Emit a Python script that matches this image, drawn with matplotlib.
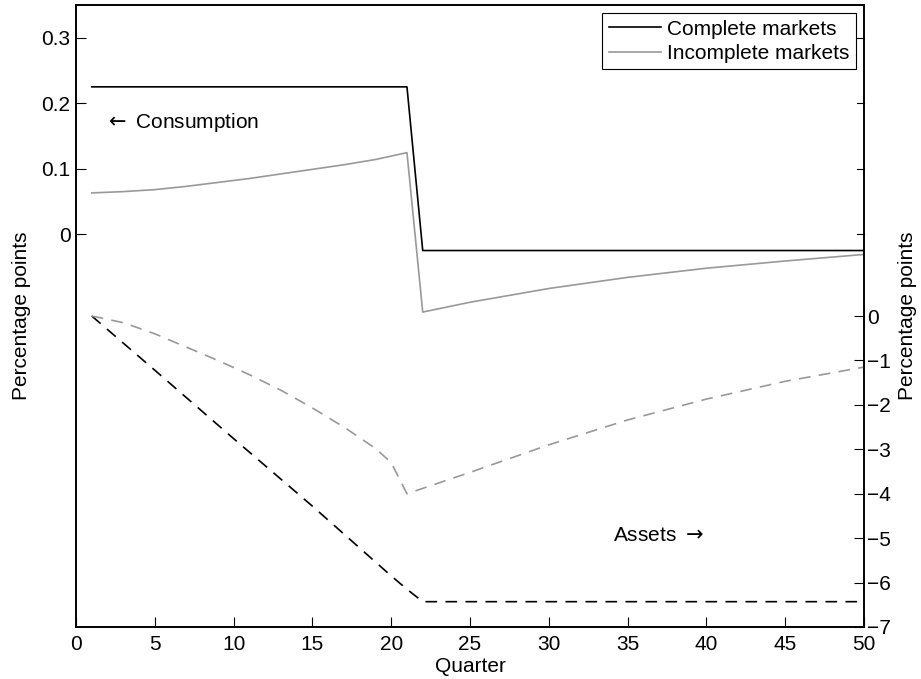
import numpy as np
import matplotlib.pyplot as plt

plt.rcParams['font.family'] = ['Liberation Sans', 'DejaVu Sans']
plt.rcParams['font.size'] = 15

# Consumo (eje izquierdo)
q_cm = [1, 21, 22, 50]
c_cm = [0.225, 0.225, -0.025, -0.025]

q_im = [1, 3, 5, 7, 9, 11, 13, 15, 17, 19, 21, 22, 25, 30, 35, 40, 45, 50]
c_im = [0.063, 0.065, 0.068, 0.073, 0.079, 0.085, 0.092, 0.099, 0.106, 0.114, 0.1245,
        -0.119, -0.104, -0.083, -0.066, -0.052, -0.041, -0.031]

# Activos (eje derecho)
q_acm = [1, 5, 10, 15, 20, 21, 22, 50]
a_cm = [0.0, -1.22, -2.76, -4.28, -5.85, -6.15, -6.43, -6.43]

q_aim = [1, 3, 5, 7, 9, 11, 13, 15, 17, 19, 20, 21, 22, 25, 30, 35, 40, 45, 50]
a_im = [0.0, -0.15, -0.40, -0.70, -1.0, -1.32, -1.67, -2.07, -2.5, -2.98, -3.3, -4.0,
        -3.88, -3.52, -2.9, -2.34, -1.87, -1.47, -1.15]

gris = '#999999'

fig = plt.figure(figsize=(9.21, 6.79), dpi=100)
ax = fig.add_axes([76 / 921, 52 / 679, 788 / 921, 622 / 679])
ax2 = ax.twinx()

l1, = ax.plot(q_cm, c_cm, color='black', lw=1.2, label='Complete markets')
l2, = ax.plot(q_im, c_im, color=gris, lw=1.2, label='Incomplete markets')
ax2.plot(q_acm, a_cm, color='black', lw=1.2, ls=(0, (7, 5)))
ax2.plot(q_aim, a_im, color=gris, lw=1.2, ls=(0, (7, 5)))

ax.set_xlim(0, 50)
ax.set_ylim(-0.6, 0.35)
ax2.set_ylim(-7, 7)
ax.set_xticks(np.arange(0, 51, 5))
ax.set_yticks([0, 0.1, 0.2, 0.3])
ax.set_yticklabels(['0', '0.1', '0.2', '0.3'])
ax2.set_yticks(np.arange(-7, 1, 1))
ax2.set_yticklabels(['\u22127', '\u22126', '\u22125', '\u22124', '\u22123', '\u22122', '\u22121', '0'])

ax.tick_params(axis='x', direction='in', length=7, width=0.8, top=False, pad=6)
ax.tick_params(axis='y', direction='in', length=7, width=0.8, right=False, pad=4)
ax2.tick_params(axis='y', direction='in', length=7, width=0.8, pad=2)
# marcas del eje izquierdo repetidas en el borde derecho
for yv in [0, 0.1, 0.2, 0.3]:
    ax.plot([49.55, 50], [yv, yv], color='black', lw=0.8, clip_on=False)

for a in (ax, ax2):
    for s in a.spines.values():
        s.set_linewidth(1.2)

ax.set_xlabel('Quarter')
ax.set_ylabel('Percentage points')
ax2.set_ylabel('Percentage points')
ax.xaxis.set_label_coords(0.5, -0.048)
ax.yaxis.set_label_coords(-0.057, 0.5)
ax2.yaxis.set_label_coords(1.043, 0.5)

ax.text(1.8, 0.17, r'$\leftarrow$ Consumption', va='center')
ax2.text(34.1, -4.95, r'Assets $\rightarrow$', va='center')

leg = ax.legend(handles=[l1, l2], loc='upper right', fancybox=False, framealpha=1,
                edgecolor='black', borderaxespad=0.4, handlelength=2.5,
                handletextpad=0.3, borderpad=0.3, labelspacing=0.25)
leg.get_frame().set_linewidth(0.8)

fig.savefig('out.png', dpi=100)
